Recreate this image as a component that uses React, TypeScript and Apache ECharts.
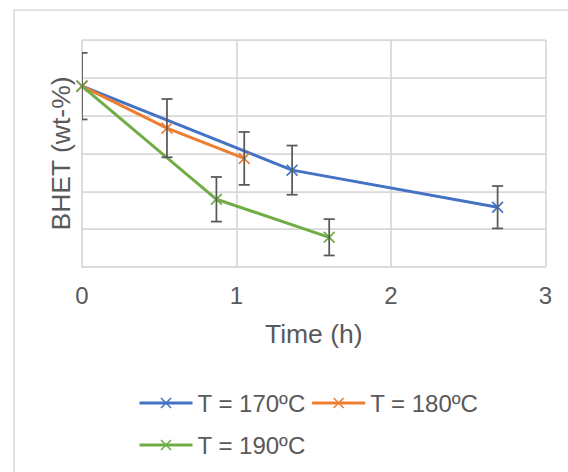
import React, { useEffect, useRef } from "react";
import * as echarts from "echarts";

// Time (h) and BHET (arbitrary units, y axis unlabeled)
const times170 = [0, 1.36, 2.69];
const values170 = [4.78, 2.56, 1.58];
const errors170 = [0.88, 0.65, 0.56];

const times180 = [0, 0.55, 1.05];
const values180 = [4.78, 3.67, 2.87];
const errors180 = [0, 0.77, 0.7];

const times190 = [0, 0.87, 1.6];
const values190 = [4.78, 1.79, 0.785];
const errors190 = [0, 0.59, 0.48];

const seriesNames = ["T = 170ºC", "T = 180ºC", "T = 190ºC"];
const xTicks = [0, 1, 2, 3];

const COLORS = ["#4472C4", "#ED7D31", "#70AD47"];
const TEXT = "#595959";
const GRID = "#d9d9d9";
const FONT = "'Liberation Sans', Arial, sans-serif";
const CROSS = "path://M0,1L1,0L5,4L9,0L10,1L6,5L10,9L9,10L5,6L1,10L0,9L4,5Z";

function pairs(xs: number[], ys: number[]) {
  return xs.map((x, i) => [x, ys[i]]);
}
function errData(xs: number[], ys: number[], es: number[]) {
  return xs
    .map((x, i) => [x, ys[i] - es[i], ys[i] + es[i]])
    .filter((_, i) => es[i] > 0);
}

export default function App() {
  const ref = useRef<HTMLDivElement>(null);
  useEffect(() => {
    const chart = echarts.init(ref.current!, null, { renderer: "svg" });
    const lineSeries = [
      [times170, values170],
      [times180, values180],
      [times190, values190],
    ].map(([xs, ys], i) => ({
      type: "line",
      name: seriesNames[i],
      data: pairs(xs as number[], ys as number[]),
      symbol: CROSS,
      symbolSize: 12,
      showSymbol: true,
      color: COLORS[i],
      itemStyle: { color: COLORS[i] },
      lineStyle: { color: COLORS[i], width: 3 },
      z: 3 + i,
    }));
    const errAll = [
      ...errData(times170, values170, errors170),
      ...errData(times180, values180, errors180),
      ...errData(times190, values190, errors190),
    ];
    const errSeries = {
      type: "custom",
      name: "err",
      data: errAll,
      clip: true,
      z: 10,
      encode: { x: 0, y: [1, 2] },
      renderItem: (params: any, api: any) => {
        const lo = api.coord([api.value(0), api.value(1)]);
        const hi = api.coord([api.value(0), api.value(2)]);
        const w = 5.5;
        const style = { stroke: TEXT, lineWidth: 1.75, fill: "none" };
        return {
          type: "group",
          children: [
            { type: "line", shape: { x1: lo[0], y1: lo[1], x2: hi[0], y2: hi[1] }, style },
            { type: "line", shape: { x1: lo[0] - w, y1: lo[1], x2: lo[0] + w, y2: lo[1] }, style },
            { type: "line", shape: { x1: hi[0] - w, y1: hi[1], x2: hi[0] + w, y2: hi[1] }, style },
          ],
        };
      },
    };
    const legendBase = {
      orient: "horizontal",
      left: 133,
      itemWidth: 53,
      itemHeight: 14,
      itemGap: 5,
      lineStyle: { width: 3 },
      textStyle: { color: TEXT, fontSize: 24, fontFamily: FONT, lineHeight: 28 },
    };
    chart.setOption({
      animation: false,
      backgroundColor: "#ffffff",
      graphic: [
        {
          type: "rect",
          shape: { x: 14, y: 10, width: 620, height: 520 },
          style: { fill: "none", stroke: GRID, lineWidth: 1.5 },
          silent: true,
        },
      ],
      grid: { left: 82, top: 40, width: 463.5, height: 227, containLabel: false },
      legend: [
        { ...legendBase, top: 384, data: [seriesNames[0], seriesNames[1]] },
        { ...legendBase, top: 426, data: [seriesNames[2]] },
      ],
      xAxis: {
        type: "value",
        min: xTicks[0],
        max: xTicks[xTicks.length - 1],
        interval: 1,
        name: "Time (h)",
        nameLocation: "middle",
        nameGap: 53,
        nameTextStyle: { color: TEXT, fontSize: 26.5, fontFamily: FONT },
        axisLine: { show: true, lineStyle: { color: GRID, width: 1.75 } },
        axisTick: { show: false },
        axisLabel: { color: TEXT, fontSize: 24, fontFamily: FONT, margin: 16 },
        splitLine: { show: true, lineStyle: { color: GRID, width: 1.75 } },
      },
      yAxis: {
        type: "value",
        min: 0,
        max: 6,
        interval: 1,
        name: "BHET (wt-%)",
        nameLocation: "middle",
        nameGap: 8,
        nameTextStyle: { color: TEXT, fontSize: 26.5, fontFamily: FONT },
        axisLine: { show: false },
        axisTick: { show: false },
        axisLabel: { show: false },
        splitLine: { show: true, lineStyle: { color: GRID, width: 1.75 } },
      },
      series: [...lineSeries, errSeries],
    });
    return () => chart.dispose();
  }, []);
  return (
    <div
      ref={ref}
      style={{ position: "absolute", left: 0, top: 0, width: 568, height: 472 }}
    />
  );
}
